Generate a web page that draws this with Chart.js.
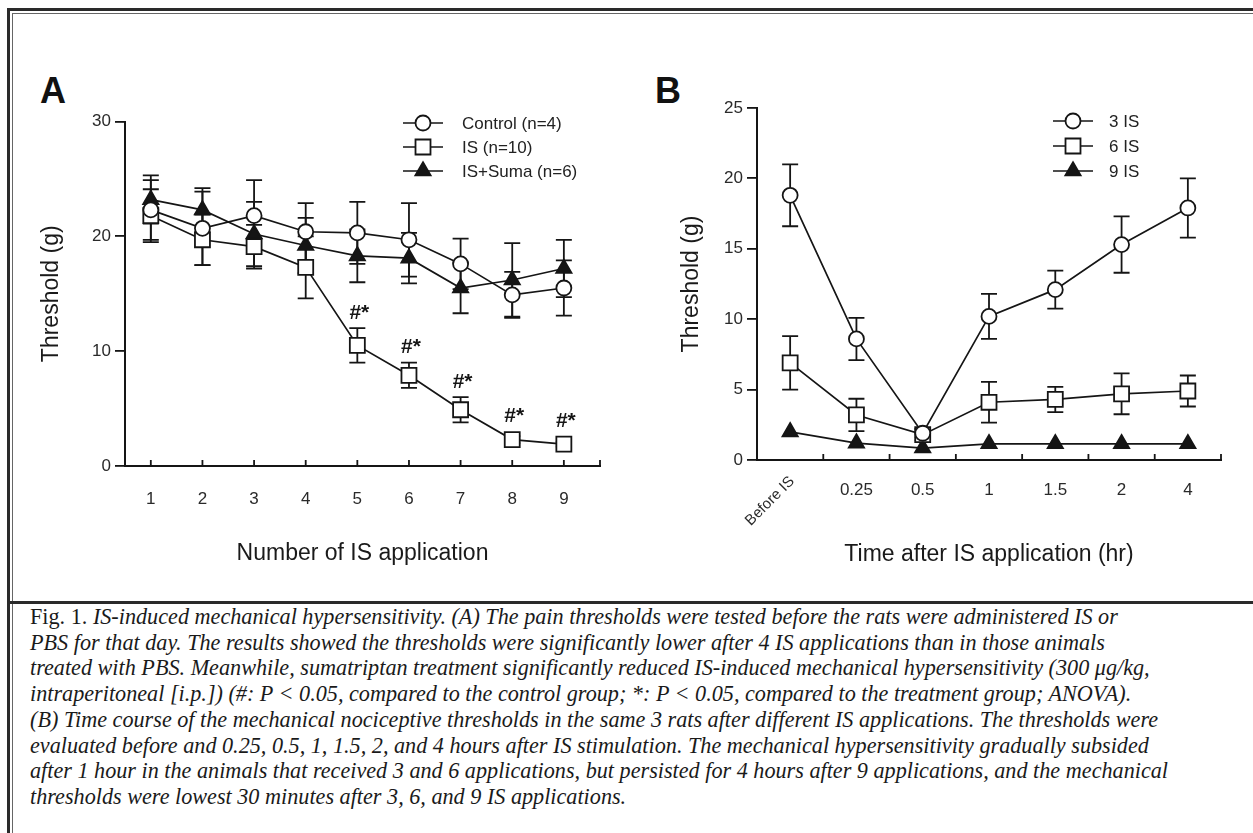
<!DOCTYPE html>
<html>
<head>
<meta charset="utf-8">
<script src="https://cdn.jsdelivr.net/npm/chart.js@4.4.1/dist/chart.umd.min.js"></script>
<style>
  body { margin:0; background:#fff; width:1253px; height:833px; position:relative; overflow:hidden; font-family:'Liberation Sans', Arial, sans-serif; }
  .bar { position:absolute; background:#2a2a2a; }
  .thin { position:absolute; background:#666; }
  canvas { position:absolute; }
  #cA { left:14px; top:14px; }
  #cB { left:620px; top:14px; }
  .panel { position:absolute; font-weight:bold; font-size:36px; line-height:36px; color:#111; }
  #caption { position:absolute; left:30px; top:604px; font-family:'Liberation Serif', 'Times New Roman', serif; font-style:italic; font-size:22.2px; line-height:25.7px; color:#1a1a1a; white-space:nowrap; }
  #caption .up { font-style:normal; }
</style>
</head>
<body>
<div class="bar" style="left:7px;right:0;top:8px;height:3px"></div>
<div class="thin" style="left:12px;right:0;top:13px;height:1px"></div>
<div class="bar" style="left:7px;top:8px;bottom:0;width:3px"></div>
<div class="thin" style="left:12px;top:13px;bottom:0;width:1px"></div>
<div class="bar" style="left:7px;right:0;top:601px;height:3px"></div>

<div class="panel" style="left:40px;top:73px">A</div>
<div class="panel" style="left:655px;top:73px">B</div>

<canvas id="cA" width="606" height="586"></canvas>
<canvas id="cB" width="633" height="586"></canvas>

<div id="caption"><span class="up">Fig. 1.</span> IS-induced mechanical hypersensitivity. (A) The pain thresholds were tested before the rats were administered IS or<br>PBS for that day. The results showed the thresholds were significantly lower after 4 IS applications than in those animals<br>treated with PBS. Meanwhile, sumatriptan treatment significantly reduced IS-induced mechanical hypersensitivity (300 μg/kg,<br>intraperitoneal [i.p.]) (#: P &lt; 0.05, compared to the control group; *: P &lt; 0.05, compared to the treatment group; ANOVA).<br>(B) Time course of the mechanical nociceptive thresholds in the same 3 rats after different IS applications. The thresholds were<br>evaluated before and 0.25, 0.5, 1, 1.5, 2, and 4 hours after IS stimulation. The mechanical hypersensitivity gradually subsided<br>after 1 hour in the animals that received 3 and 6 applications, but persisted for 4 hours after 9 applications, and the mechanical<br>thresholds were lowest 30 minutes after 3, 6, and 9 IS applications.</div>

<script>
// panel A: threshold vs number of IS applications
var xA = [1, 2, 3, 4, 5, 6, 7, 8, 9];
var controlA    = [22.3, 20.7, 21.8, 20.4, 20.3, 19.7, 17.6, 14.9, 15.5];
var controlErrA = [2.6, 3.2, 3.1, 2.5, 2.7, 3.2, 2.2, 2.0, 2.4];
var isA         = [21.8, 19.7, 19.1, 17.3, 10.5, 7.9, 4.9, 2.3, 1.9];
var isErrA      = [2.3, 2.2, 1.9, 2.7, 1.5, 1.1, 1.1, 0.3, 0.2];
var sumaA       = [23.2, 22.3, 20.2, 19.2, 18.3, 18.1, 15.5, 16.2, 17.2];
var sumaErrA    = [2.1, 1.9, 2.8, 2.4, 2.3, 2.2, 2.2, 3.2, 2.5];
var sigA        = ['', '', '', '', '#*', '#*', '#*', '#*', '#*'];
var yTicksA = [0, 10, 20, 30];

// panel B: time course
var catB   = ['Before IS', '0.25', '0.5', '1', '1.5', '2', '4'];
var is3    = [18.8, 8.6, 1.9, 10.2, 12.1, 15.3, 17.9];
var is3Err = [2.2, 1.5, 0.3, 1.6, 1.35, 2.0, 2.1];
var is6    = [6.9, 3.2, 1.8, 4.1, 4.3, 4.7, 4.9];
var is6Err = [1.9, 1.15, 0.4, 1.45, 0.9, 1.45, 1.1];
var is9    = [2.0, 1.2, 0.85, 1.15, 1.15, 1.15, 1.15];
var yTicksB = [0, 5, 10, 15, 20, 25];

var ink = '#151515';
Chart.defaults.font.family = "'Liberation Sans', Arial, sans-serif";
Chart.defaults.color = '#2a2a2a';

function pts(xs, ys) {
  return xs.map(function (x, i) { return {x: x, y: ys[i]}; });
}
function val(d) { return (d !== null && typeof d === 'object') ? d.y : d; }

function series(label, data, err, style, radius, fill) {
  return {
    label: label, data: data, err: err,
    borderColor: ink, borderWidth: 1.7, tension: 0, fill: false,
    pointStyle: style, pointRadius: radius,
    pointBackgroundColor: fill, pointBorderColor: ink, pointBorderWidth: 1.8,
    clip: false
  };
}

var errorBars = {
  id: 'errorBars',
  beforeDatasetsDraw: function (chart) {
    var ctx = chart.ctx, ys = chart.scales.y;
    chart.data.datasets.forEach(function (ds, di) {
      if (!ds.err) return;
      chart.getDatasetMeta(di).data.forEach(function (pt, i) {
        var e = ds.err[i];
        if (!e) return;
        var v = val(ds.data[i]);
        var top = ys.getPixelForValue(v + e), bot = ys.getPixelForValue(v - e);
        ctx.save();
        ctx.strokeStyle = ink; ctx.lineWidth = 1.8;
        ctx.beginPath();
        ctx.moveTo(pt.x, top); ctx.lineTo(pt.x, bot);
        ctx.moveTo(pt.x - 8, top); ctx.lineTo(pt.x + 8, top);
        ctx.moveTo(pt.x - 8, bot); ctx.lineTo(pt.x + 8, bot);
        ctx.stroke();
        ctx.restore();
      });
    });
  }
};

// x axis ticks point up into the plot
var innerTicks = {
  id: 'innerTicks',
  afterDraw: function (chart) {
    var xs = chart.scales.x, ctx = chart.ctx, y0 = xs.top;
    var marks = [];
    if (xs.type === 'category') {
      for (var i = 1; i < xs.ticks.length; i++) {
        marks.push((xs.getPixelForValue(i - 1) + xs.getPixelForValue(i)) / 2);
      }
    } else {
      xs.ticks.forEach(function (t) { marks.push(xs.getPixelForValue(t.value)); });
    }
    marks.push(xs.right);
    ctx.save();
    ctx.strokeStyle = ink; ctx.lineWidth = 1.8;
    ctx.beginPath();
    marks.forEach(function (x) { ctx.moveTo(x, y0); ctx.lineTo(x, y0 - 6); });
    ctx.stroke();
    ctx.restore();
  }
};

var lineLegend = {
  id: 'lineLegend',
  afterDraw: function (chart, args, opts) {
    var ctx = chart.ctx, a = chart.chartArea;
    chart.data.datasets.forEach(function (ds, i) {
      var x = a.left + opts.dx, y = a.top + opts.dy + i * opts.gap;
      ctx.save();
      ctx.strokeStyle = ink; ctx.lineWidth = 1.7;
      ctx.beginPath(); ctx.moveTo(x - 20, y); ctx.lineTo(x + 20, y); ctx.stroke();
      ctx.fillStyle = ds.pointBackgroundColor; ctx.strokeStyle = ink; ctx.lineWidth = 1.8;
      Chart.helpers.drawPoint(ctx, {pointStyle: ds.pointStyle, radius: ds.pointRadius, borderWidth: 1.8, rotation: 0}, x, y);
      ctx.fillStyle = '#222';
      ctx.font = "17px 'Liberation Sans', Arial, sans-serif";
      ctx.textBaseline = 'middle'; ctx.textAlign = 'left';
      ctx.fillText(ds.label, x + opts.textDx, y + 1);
      ctx.restore();
    });
  }
};

var sigMarks = {
  id: 'sigMarks',
  afterDatasetsDraw: function (chart) {
    var ds = chart.data.datasets[1], ys = chart.scales.y, ctx = chart.ctx;
    chart.getDatasetMeta(1).data.forEach(function (pt, i) {
      if (!sigA[i]) return;
      var v = val(ds.data[i]);
      var top = Math.min(ys.getPixelForValue(v + ds.err[i]), pt.y - 8);
      ctx.save();
      ctx.fillStyle = ink;
      ctx.font = "bold 21px 'Liberation Sans', Arial, sans-serif";
      ctx.textAlign = 'center'; ctx.textBaseline = 'middle';
      ctx.fillText(sigA[i], pt.x + 2, top - 15);
      ctx.restore();
    });
  }
};

var rotatedFirst = {
  id: 'rotatedFirst',
  afterDraw: function (chart) {
    var xs = chart.scales.x, ctx = chart.ctx;
    ctx.save();
    ctx.translate(xs.getPixelForValue(0) + 2, xs.top + 19);
    ctx.rotate(-Math.PI / 4);
    ctx.fillStyle = '#2a2a2a';
    ctx.font = "15px 'Liberation Sans', Arial, sans-serif";
    ctx.textAlign = 'right'; ctx.textBaseline = 'middle';
    ctx.fillText(catB[0], 0, 0);
    ctx.restore();
  }
};

function yAxis(max, ticks, width, titlePad) {
  return {
    min: 0, max: max,
    afterBuildTicks: function (s) { s.ticks = ticks.map(function (v) { return {value: v}; }); },
    afterFit: function (s) { s.width = width; },
    grid: { drawOnChartArea: false, drawTicks: true, tickLength: 10, color: ink, lineWidth: 1.8 },
    border: { display: true, color: ink, width: 2 },
    ticks: { font: { size: 17 }, padding: 4, color: '#2a2a2a' },
    title: { display: true, text: 'Threshold (g)', font: { size: 23 }, color: '#1a1a1a', padding: { top: titlePad, bottom: 0 } }
  };
}

new Chart(document.getElementById('cA'), {
  type: 'line',
  data: {
    datasets: [
      series('Control (n=4)', pts(xA, controlA), controlErrA, 'circle', 7.5, '#fff'),
      series('IS (n=10)', pts(xA, isA), isErrA, 'rect', 10.6, '#fff'),
      series('IS+Suma (n=6)', pts(xA, sumaA), sumaErrA, 'triangle', 8.8, ink)
    ]
  },
  options: {
    responsive: false, animation: false, events: [],
    layout: { padding: { left: 0, right: 20, top: 107.5, bottom: 0 } },
    plugins: { legend: { display: false }, tooltip: { enabled: false },
      lineLegend: { dx: 298, dy: 1.5, gap: 24, textDx: 39 } },
    scales: {
      x: {
        type: 'linear', min: 0.5, max: 9.7,
        afterBuildTicks: function (s) { s.ticks = xA.map(function (v) { return {value: v}; }); },
        afterFit: function (s) { s.height = 134; },
        grid: { display: false },
        border: { display: true, color: ink, width: 2 },
        ticks: { font: { size: 17 }, padding: 15, color: '#2a2a2a', autoSkip: false, maxRotation: 0 },
        title: { display: true, text: 'Number of IS application', font: { size: 23 }, color: '#1a1a1a', padding: { top: 0, bottom: 33 } }
      },
      y: yAxis(30, yTicksA, 111, 24)
    }
  },
  plugins: [errorBars, innerTicks, lineLegend, sigMarks]
});

new Chart(document.getElementById('cB'), {
  type: 'line',
  data: {
    labels: catB,
    datasets: [
      series('3 IS', is3, is3Err, 'circle', 7.5, '#fff'),
      series('6 IS', is6, is6Err, 'rect', 10.6, '#fff'),
      series('9 IS', is9, null, 'triangle', 8.8, ink)
    ]
  },
  options: {
    responsive: false, animation: false, events: [],
    layout: { padding: { left: 0, right: 32, top: 94, bottom: 0 } },
    plugins: { legend: { display: false }, tooltip: { enabled: false },
      lineLegend: { dx: 316, dy: 13, gap: 25, textDx: 36 } },
    scales: {
      x: {
        type: 'category', offset: true,
        afterFit: function (s) { s.height = 140; },
        grid: { display: false },
        border: { display: true, color: ink, width: 2 },
        ticks: { font: { size: 17 }, padding: 12, color: '#2a2a2a', autoSkip: false, maxRotation: 0,
          callback: function (v, i) { return i === 0 ? '' : catB[i]; } },
        title: { display: true, text: 'Time after IS application (hr)', font: { size: 23 }, color: '#1a1a1a', padding: { top: 0, bottom: 32 } }
      },
      y: yAxis(25, yTicksB, 137, 58)
    }
  },
  plugins: [errorBars, innerTicks, lineLegend, rotatedFirst]
});
</script>
</body>
</html>
